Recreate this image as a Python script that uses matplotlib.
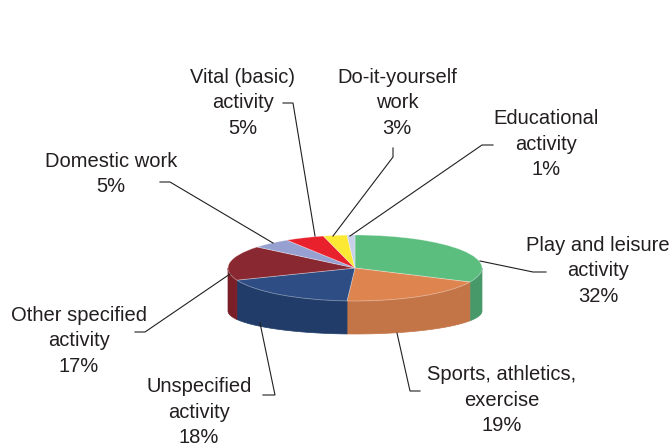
import numpy as np
import matplotlib
matplotlib.use("Agg")
import matplotlib.pyplot as plt
from matplotlib.patches import Wedge, Polygon
from matplotlib.transforms import Affine2D

# Share of time by activity type (percent), clockwise from 12 o'clock
categories = [
    "Play and leisure\nactivity",
    "Sports, athletics,\nexercise",
    "Unspecified\nactivity",
    "Other specified\nactivity",
    "Domestic work",
    "Vital (basic)\nactivity",
    "Do-it-yourself\nwork",
    "Educational\nactivity",
]
shares = [32, 19, 18, 17, 5, 5, 3, 1]

top_colors = ["#5BBE7E", "#DE844F", "#2D4D84", "#8A2832",
              "#96A1D1", "#E9212D", "#FCE934", "#C8CFE9"]
side_colors = ["#48996A", "#C47548", "#213C69", "#7A1F28",
               "#7D88B5", "#C41B25", "#D9C82C", "#AAB1CC"]

# Label centres and leader-line paths (pixel layout, y downward)
label_pos = [(598, 271), (502, 400), (199, 412), (79, 341),
             (111, 174), (243, 103), (397, 103), (546, 144)]
leaders = [
    [(480, 261), (533, 272), (546, 272)],
    [(397, 333), (410, 391), (420, 391)],
    [(260, 323), (275, 395), (263, 395)],
    [(230, 274), (145, 332), (135, 332)],
    [(273, 243), (170, 182), (160, 182)],
    [(315, 236), (293, 103), (283, 103)],
    [(333, 236), (393, 157), (393, 148)],
    [(350, 236), (482, 145), (493, 145)],
]

W, H = 672, 448
fig = plt.figure(figsize=(W / 100, H / 100), dpi=100)
ax = fig.add_axes([0, 0, 1, 1])
ax.set_xlim(0, W)
ax.set_ylim(H, 0)
ax.axis("off")

# Pie geometry: top ellipse and (perspective) bottom ellipse
cx, cy, rx, ry = 355, 268, 127, 33
bcy, bry = 311, 23

bounds = np.concatenate([[0], np.cumsum(shares)]) / np.sum(shares) * 360.0

# Outer side walls of the front half
for i in range(len(shares)):
    lo = max(bounds[i], 90.0)
    hi = min(bounds[i + 1], 270.0)
    if lo >= hi:
        continue
    t = np.radians(np.linspace(lo, hi, 120))
    xs = cx + rx * np.sin(t)
    top_y = cy - ry * np.cos(t)
    bot_y = bcy - bry * np.cos(t)
    pts = np.column_stack([np.concatenate([xs, xs[::-1]]),
                           np.concatenate([top_y, bot_y[::-1]])])
    ax.add_patch(Polygon(pts, closed=True, facecolor=side_colors[i],
                         edgecolor=side_colors[i], lw=0.5, zorder=2))

# Top faces
ellipse_tf = Affine2D().scale(rx, -ry).translate(cx, cy) + ax.transData
for i in range(len(shares)):
    w = Wedge((0, 0), 1.0, 90.0 - bounds[i + 1], 90.0 - bounds[i],
              facecolor=top_colors[i], edgecolor=(1, 1, 1, 0.35), lw=0.6,
              transform=ellipse_tf, zorder=3)
    ax.add_patch(w)

# Leader lines and labels
text_color = "#231F20"
for name, share, (lx, ly), path in zip(categories, shares, label_pos, leaders):
    px, py = zip(*path)
    ax.plot(px, py, color="#231F20", lw=0.8, zorder=4, solid_joinstyle="miter")
    ax.text(lx, ly, f"{name}\n{share}%", ha="center", va="center",
            fontsize=14.5, linespacing=1.42, color=text_color,
            family=["Liberation Sans", "DejaVu Sans"], zorder=5)

fig.savefig("out.png", dpi=100)
